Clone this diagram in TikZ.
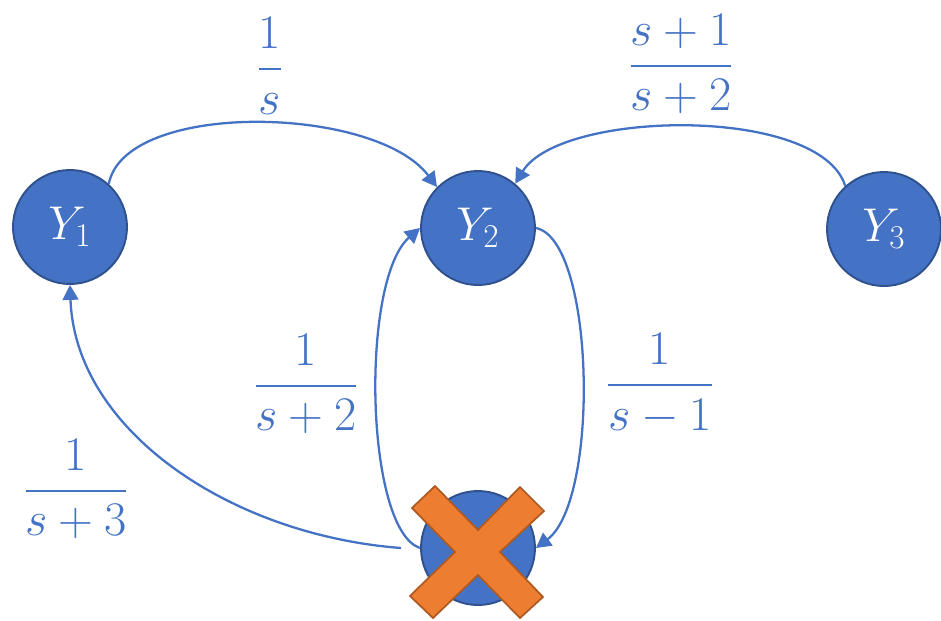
\RequirePackage{fix-cm}
\documentclass[tikz,border=0pt]{standalone}
\usepackage{amsmath}
\usetikzlibrary{arrows.meta}
\definecolor{nodeblue}{HTML}{4472C4}
\definecolor{nodeedge}{HTML}{2F528F}
\definecolor{xorange}{HTML}{ED7D31}
\definecolor{xedge}{HTML}{AE5A21}
\begin{document}
\begin{tikzpicture}[x=0.02cm,y=-0.02cm,
  vnode/.style={circle,fill=nodeblue,draw=nodeedge,line width=1.1pt,minimum size=2.28cm,inner sep=0pt,text=white,font=\fontsize{27}{32}\selectfont},
  edge/.style={draw=nodeblue,line width=1.3pt,-{Triangle[length=8.5pt,width=9pt]}},
  lbl/.style={text=nodeblue,inner sep=0pt,font=\fontsize{27.5}{33}\selectfont}]
\useasboundingbox (0,0) rectangle (941,620);
\node[vnode] (Y1) at (70,227) {$Y_1$};
\node[vnode] (Y2) at (478,228) {$Y_2$};
\node[vnode] (Y3) at (884,229) {$Y_3$};
\node[vnode] (B) at (478,548) {};
\coordinate (s5) at (401,548);
% cross
\draw[fill=xorange,draw=xedge,line width=1pt]
  (435,486) -- (478,530) -- (520,487) -- (544,511) -- (500,552) -- (543,597)
  -- (520,618) -- (478,575) -- (433,618) -- (410,596) -- (455,552) -- (412,508) -- cycle;
% edges
\draw[edge] (Y1.48) .. controls (125,100) and (375,105) .. (Y2.135);
\draw[edge] (Y3.132) .. controls (820,105) and (560,110) .. (Y2.50);
\draw[edge] (Y2.east) .. controls (595,240) and (600,500) .. (B.east);
\draw[edge] (B.west) .. controls (365,530) and (360,280) .. (Y2.west);
\draw[edge] (s5) .. controls (230,535) and (75,430) .. (Y1.south);
% labels
\node[lbl] (l1) at (270,66) {$\dfrac{1}{s}$};
\node[lbl] (l2) at (681,64) {$\dfrac{s+1}{s+2}$};
\node[lbl] (l3) at (306,384) {$\dfrac{1}{s+2}$};
\node[lbl] (l4) at (660,384) {$\dfrac{1}{s-1}$};
\node[lbl] (l5) at (76,489) {$\dfrac{1}{s+3}$};
\end{tikzpicture}
\end{document}
